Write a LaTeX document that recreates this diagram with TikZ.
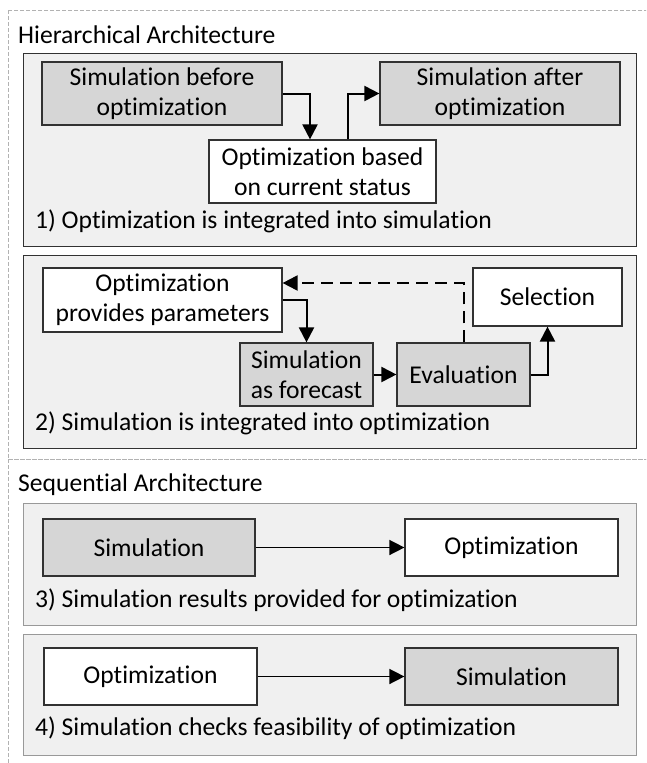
\documentclass[tikz,border=0pt]{standalone}
\usepackage{fontspec}
\setmainfont[Ligatures=NoCommon]{Carlito}
\usepackage{tikz}
\usetikzlibrary{arrows.meta,positioning}
\definecolor{panelfill}{RGB}{240,240,240}
\definecolor{simgray}{RGB}{214,214,214}
\definecolor{edgedark}{RGB}{50,50,50}
\tikzset{
  box/.style={rectangle, draw=edgedark, line width=1.2pt, fill=#1,
              inner sep=0pt, text centered, align=center},
  panel/.style={draw=#1, line width=1pt, fill=panelfill},
  outer/.style={draw=black!30, line width=0.8pt, dash pattern=on 4pt off 2pt},
  arr/.style={-{Triangle[length=15pt,width=15pt]}, line width=#1, black},
  arr/.default=2pt,
  caption/.style={anchor=west, inner sep=0pt},
}

\begin{document}
\begin{tikzpicture}[x=1pt, y=-1pt, font=\fontsize{25.6}{30}\selectfont]
    \useasboundingbox (0,0) rectangle (646,763);
    \clip (0,0) rectangle (646,763);

    % outer frames
    \draw[outer] (8,10) rectangle (680,459);
    \draw[outer] (8,459) rectangle (680,800);
    \node[caption] (hiertitle) at (18,35) {Hierarchical Architecture};
    \node[caption] (seqtitle) at (18,485) {Sequential Architecture};

    % panels
    \draw[panel=edgedark] (23,53) rectangle (636,246);
    \draw[panel=edgedark] (23,255) rectangle (636,448);
    \draw[panel=black!40] (23,503) rectangle (636,625);
    \draw[panel=black!40] (23,634) rectangle (636,755);

    % 1) optimization inside simulation
    \node[box=simgray, minimum width=240pt, minimum height=63pt] (simbefore) at (162,93.5)
          {Simulation before\\optimization};
    \node[box=simgray, minimum width=240pt, minimum height=63pt] (simafter) at (500,93.5)
          {Simulation after\\optimization};
    \node[box=white, minimum width=227pt, minimum height=63pt] (optstatus) at (322.5,171.5)
          {Optimization based\\on current status};
    \node[caption] (cap1) at (35,221) {1) Optimization is integrated into simulation};

    \draw[arr] (simbefore.east) -| ([xshift=-12.5pt]optstatus.north);
    \draw[arr] ([xshift=25.5pt]optstatus.north) |- (simafter.west);

    % 2) simulation inside optimization
    \node[box=white, minimum width=239pt, minimum height=64pt] (optparam) at (162.5,300)
          {Optimization\\provides parameters};
    \node[box=white, minimum width=149pt, minimum height=58pt] (sel) at (547.5,297)
          {Selection};
    \node[box=simgray, minimum width=133pt, minimum height=63pt] (simfc) at (306.5,374.5)
          {Simulation\\as forecast};
    \node[box=simgray, minimum width=133pt, minimum height=63pt] (eval) at (463.5,374.5)
          {Evaluation};
    \node[caption] (cap2) at (35,423) {2) Simulation is integrated into optimization};

    \draw[arr] (optparam.east) -| (simfc.north);
    \draw[arr] (simfc) -- (eval);
    \draw[arr] (eval.east) -| (sel.south);
    \draw[arr, dash pattern=on 12pt off 7pt] (eval.north) |- ([yshift=17pt]optparam.east);

    % 3) simulation then optimization
    \node[box=simgray, minimum width=212pt, minimum height=57pt] (sim3) at (149,547.5)
          {Simulation};
    \node[box=white, minimum width=213pt, minimum height=57pt] (opt3) at (511.5,547.5)
          {Optimization};
    \node[caption] (cap3) at (35,600) {3) Simulation results provided for optimization};
    \draw[arr=1.5pt] (sim3) -- (opt3);

    % 4) optimization then simulation
    \node[box=white, minimum width=213pt, minimum height=57pt] (opt4) at (150.5,676.5)
          {Optimization};
    \node[box=simgray, minimum width=213pt, minimum height=57pt] (sim4) at (511.5,676.5)
          {Simulation};
    \node[caption] (cap4) at (35,728) {4) Simulation checks feasibility of optimization};
    \draw[arr=1.5pt] (opt4) -- (sim4);
\end{tikzpicture}
\end{document}
